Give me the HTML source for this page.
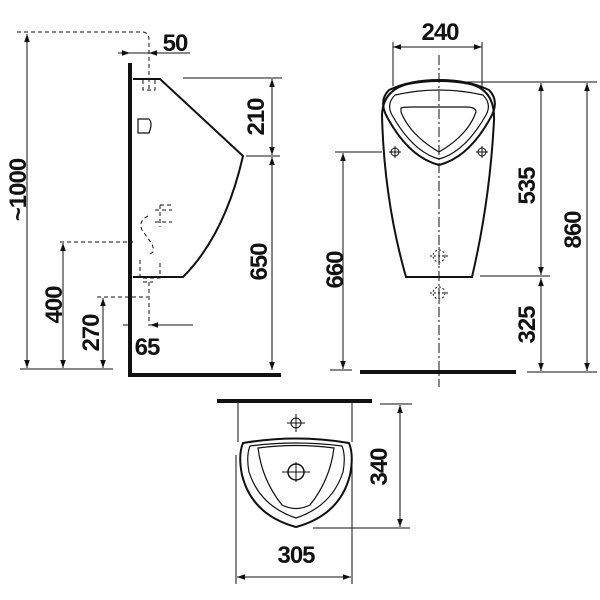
<!DOCTYPE html>
<html><head><style>body{margin:0;background:#fff}svg{display:block}text{font-family:"Liberation Sans",sans-serif;font-weight:bold;font-size:24px;letter-spacing:-1px;fill:#111}</style></head><body>
<svg width="600" height="600" viewBox="0 0 600 600" xmlns="http://www.w3.org/2000/svg">
<defs>
<marker id="a" viewBox="0 0 10 10" refX="10" refY="5" markerWidth="12" markerHeight="8" orient="auto-start-reverse" markerUnits="userSpaceOnUse"><path d="M0,1.5L10,5L0,8.5z" fill="#111"/></marker>
</defs>
<g stroke="#111" fill="none" stroke-width="1">
<line x1="130" y1="63" x2="130" y2="377" stroke-width="4"/>
<line x1="128" y1="375" x2="281" y2="375" stroke-width="4"/>
<path d="M133,79 L160,79 L243,156 Q225,235 183,277 L133,277" stroke-width="2"/>
<path d="M138,119 h11 q4,4 0,14 h-11z" stroke-width="1.2"/>
<g stroke-dasharray="4,3">
<path d="M17,32 H142 Q149,32 149,40 V90"/>
<path d="M143,80 v10 h12 v-10"/>
<path d="M160,205 h12 M155,210 h17 M155,222 h17 M160,205 v22"/>
<path d="M148,216 q-10,5 -6,14 l10,14 q4,10 -4,10"/>
<path d="M140,260 v18 h20 v-18"/>
<path d="M143,282 h10 M149,282 V326"/>
<path d="M60,242 H133 M97,297 H148"/>
</g>
<line x1="20" y1="369" x2="113" y2="369"/>
<line x1="27" y1="34" x2="27" y2="368" marker-start="url(#a)" marker-end="url(#a)"/>
<line x1="118" y1="53" x2="130" y2="53" marker-end="url(#a)"/>
<line x1="190" y1="53" x2="149" y2="53" marker-end="url(#a)"/>
<line x1="130" y1="53" x2="149" y2="53"/>
<line x1="183" y1="78" x2="282" y2="78"/>
<line x1="246" y1="156" x2="280" y2="156"/>
<line x1="272" y1="79" x2="272" y2="155" marker-start="url(#a)" marker-end="url(#a)"/>
<line x1="272" y1="157" x2="272" y2="370" marker-start="url(#a)" marker-end="url(#a)"/>
<line x1="63" y1="243" x2="63" y2="368" marker-start="url(#a)" marker-end="url(#a)"/>
<line x1="103" y1="298" x2="103" y2="368" marker-start="url(#a)" marker-end="url(#a)"/>
<line x1="123" y1="325" x2="130" y2="325"/>
<line x1="193" y1="325" x2="150" y2="325" marker-end="url(#a)"/>
<line x1="439" y1="55" x2="439" y2="387" stroke-dasharray="10,3,2,3"/>
<line x1="393" y1="47" x2="482" y2="47" marker-start="url(#a)" marker-end="url(#a)"/>
<line x1="393" y1="42" x2="393" y2="86"/><line x1="482" y1="42" x2="482" y2="86"/>
<path d="M406,277 L472,277 Q490,200 494,120 Q495,90 470,84 Q439,78 408,84 Q383,90 382,115 Q384,200 406,277Z" stroke-width="2"/>
<path d="M389,90 Q410,80 439,80 Q468,80 489,90 Q499,100 492,115 Q470,157 439,165 Q408,157 386,115 Q379,100 389,90Z" stroke-width="2"/>
<path d="M395,95 Q439,85 483,95 Q492,104 486,115 Q465,152 439,159 Q413,152 392,115 Q386,104 395,95Z" stroke-width="1.2"/>
<path d="M401,108 Q403,107 412,107 H466 Q476,107 476,112 Q468,135 439,152 Q410,135 401,112Z" stroke-width="1.2"/>
<g stroke-width="1"><circle cx="395" cy="152" r="4"/><path d="M389,152h12M395,146v12"/><circle cx="482" cy="152" r="4"/><path d="M476,152h12M482,146v12"/></g>
<g stroke-dasharray="2,2"><circle cx="439" cy="256" r="6"/><path d="M430,256h18M439,247v18"/><circle cx="439" cy="293" r="6"/><path d="M430,293h18M439,284v18"/></g>
<line x1="360" y1="372" x2="516" y2="372" stroke-width="4"/>
<line x1="457" y1="82" x2="597" y2="82"/>
<line x1="480" y1="276" x2="550" y2="276"/>
<line x1="527" y1="372" x2="597" y2="372"/>
<line x1="541" y1="83" x2="541" y2="275" marker-start="url(#a)" marker-end="url(#a)"/>
<line x1="541" y1="278" x2="541" y2="371" marker-start="url(#a)" marker-end="url(#a)"/>
<line x1="587" y1="83" x2="587" y2="371" marker-start="url(#a)" marker-end="url(#a)"/>
<line x1="335" y1="152" x2="382" y2="152"/>
<line x1="330" y1="370" x2="352" y2="370"/>
<line x1="343" y1="153" x2="343" y2="369" marker-start="url(#a)" marker-end="url(#a)"/>
<line x1="217" y1="401" x2="372" y2="401" stroke-width="4"/>
<line x1="238" y1="401" x2="238" y2="442"/><line x1="352" y1="401" x2="352" y2="442"/>
<circle cx="296" cy="423" r="5"/><path d="M287,423h18M296,414v18"/>
<path d="M243,443 Q296,434 349,443 Q354,455 350,475 Q340,515 296,527 Q252,515 242,475 Q238,455 243,443Z" stroke-width="2"/>
<path d="M250,446 Q296,440 342,446 Q346,456 343,472 Q332,506 296,518 Q260,506 249,472 Q246,456 250,446Z" stroke-width="1.2"/>
<path d="M258,448 Q296,443 334,448 Q330,480 310,505 Q296,512 282,505 Q262,480 258,448Z" stroke-width="1.2"/>
<circle cx="296" cy="472" r="8" stroke-width="1.5"/><path d="M282,472h28M296,462v20"/>
<line x1="236" y1="455" x2="236" y2="584"/><line x1="352" y1="455" x2="352" y2="584"/>
<line x1="237" y1="577" x2="351" y2="577" marker-start="url(#a)" marker-end="url(#a)"/>
<line x1="380" y1="404" x2="412" y2="404"/>
<line x1="313" y1="528" x2="410" y2="528"/>
<line x1="400" y1="405" x2="400" y2="527" marker-start="url(#a)" marker-end="url(#a)"/>
</g>
<text x="175" y="51" text-anchor="middle">50</text>
<text x="440" y="40" text-anchor="middle">240</text>
<text x="296" y="563" text-anchor="middle">305</text>
<text x="147" y="355" text-anchor="middle">65</text>
<text transform="translate(26,190) rotate(-90)" text-anchor="middle">~1000</text>
<text transform="translate(62,305) rotate(-90)" text-anchor="middle">400</text>
<text transform="translate(99,333) rotate(-90)" text-anchor="middle">270</text>
<text transform="translate(264,117) rotate(-90)" text-anchor="middle">210</text>
<text transform="translate(267,262) rotate(-90)" text-anchor="middle">650</text>
<text transform="translate(343,270) rotate(-90)" text-anchor="middle">660</text>
<text transform="translate(535,186) rotate(-90)" text-anchor="middle">535</text>
<text transform="translate(535,325) rotate(-90)" text-anchor="middle">325</text>
<text transform="translate(581,230) rotate(-90)" text-anchor="middle">860</text>
<text transform="translate(387,467) rotate(-90)" text-anchor="middle">340</text>
</svg>
</body></html>
